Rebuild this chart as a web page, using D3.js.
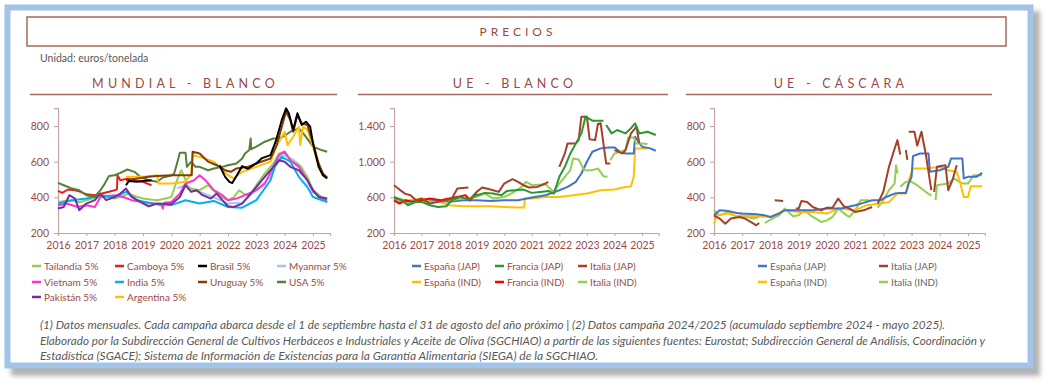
<!DOCTYPE html>
<html><head><meta charset="utf-8">
<script src="https://cdn.jsdelivr.net/npm/d3@7"></script>
<style>
html,body{margin:0;padding:0;background:#fff;}
svg text{font-family:Lato,"Open Sans",sans-serif;}
</style></head>
<body>
<svg id="c" width="1046" height="383"></svg>
<script>
// ---------- DATA ----------
const yearTicks = [2016,2017,2018,2019,2020,2021,2022,2023,2024,2025];
const yTicksMundial = [200,400,600,800];
const yTicksUEBlanco = [200,600,1000,1400];
const yTicksCascara = [200,400,600,800];

// Mundial - Blanco
const tailandia = [[2016.0,374],[2016.25,380],[2016.5,384],[2016.75,372],[2017.0,384],[2017.25,395],[2017.5,412],[2017.75,400],[2018.0,393],[2018.25,405],[2018.5,421],[2018.75,405],[2019.0,393],[2019.25,388],[2019.5,384],[2019.75,392],[2020.0,402],[2020.2,496],[2020.35,552],[2020.5,500],[2020.6,449],[2020.8,445],[2021.0,440],[2021.3,468],[2021.6,421],[2021.85,395],[2022.0,384],[2022.2,400],[2022.4,440],[2022.55,420],[2022.7,412],[2022.85,430],[2023.0,468],[2023.3,534],[2023.6,590],[2023.8,646],[2024.0,656],[2024.2,608],[2024.5,580],[2024.8,515],[2025.0,440],[2025.3,402],[2025.5,393]];
const camboya = [[2016.0,436],[2016.15,425],[2016.35,444],[2016.6,440],[2016.8,431],[2017.0,417],[2017.3,412],[2017.55,421],[2017.8,431],[2018.0,440],[2018.08,445],[2018.1,524],[2018.2,496],[2018.45,505],[2018.7,496],[2019.0,487],[2019.3,468]];
const brasil = [[2018.4,468],[2018.5,492],[2018.8,487],[2019.0,492],[2019.3,496],[2019.31,null],[2021.65,null],[2021.7,580],[2021.9,515],[2022.05,487],[2022.15,480],[2022.3,520],[2022.5,575],[2022.7,560],[2023.0,590],[2023.2,620],[2023.5,637],[2023.7,721],[2023.9,834],[2024.05,899],[2024.15,870],[2024.3,777],[2024.45,871],[2024.6,806],[2024.75,824],[2024.9,796],[2025.0,703],[2025.2,571],[2025.35,524],[2025.5,506]];
const myanmar = [[2020.2,450],[2020.5,470],[2020.8,440],[2021.0,430],[2021.5,400],[2022.0,365],[2022.5,370],[2023.0,440],[2023.5,515],[2023.8,627],[2024.0,637],[2024.3,610],[2024.6,571],[2025.0,440],[2025.5,374]];
const vietnam = [[2016.0,356],[2016.3,365],[2016.7,346],[2017.0,356],[2017.3,346],[2017.5,402],[2018.0,412],[2018.3,402],[2018.6,384],[2019.0,374],[2019.4,365],[2019.65,356],[2019.7,337],[2019.75,370],[2020.0,374],[2020.3,421],[2020.5,477],[2020.8,496],[2021.0,524],[2021.2,496],[2021.5,440],[2021.8,412],[2022.0,384],[2022.3,393],[2022.6,412],[2023.0,440],[2023.3,477],[2023.6,571],[2023.8,637],[2024.0,656],[2024.2,608],[2024.5,571],[2024.8,496],[2025.0,431],[2025.3,393],[2025.5,384]];
const india = [[2016.0,365],[2016.5,384],[2017.0,393],[2017.5,412],[2018.0,402],[2018.4,431],[2018.8,384],[2019.3,365],[2020.0,356],[2020.5,384],[2021.0,365],[2021.5,380],[2022.0,346],[2022.5,342],[2023.0,384],[2023.5,496],[2023.65,571],[2023.9,627],[2024.2,600],[2024.5,515],[2024.8,458],[2025.0,402],[2025.5,374]];
const uruguay = [[2018.4,496],[2018.8,505],[2019.2,515],[2019.5,519],[2020.0,524],[2020.5,524],[2020.72,524],[2020.75,656],[2021.0,646],[2021.3,600],[2021.6,580],[2021.9,552],[2022.1,543],[2022.3,562],[2022.7,571],[2023.0,590],[2023.5,618],[2023.7,684],[2023.9,796],[2024.05,881],[2024.2,834],[2024.3,768],[2024.45,862],[2024.6,815],[2024.8,806],[2025.0,703],[2025.2,590],[2025.35,534],[2025.5,511]];
const usa = [[2016.0,481],[2016.25,465],[2016.5,449],[2016.75,440],[2017.0,412],[2017.3,402],[2017.5,440],[2017.65,477],[2017.8,519],[2018.0,524],[2018.2,537],[2018.45,556],[2018.7,543],[2018.9,515],[2019.2,496],[2019.5,487],[2019.7,511],[2020.0,522],[2020.1,534],[2020.2,590],[2020.3,650],[2020.5,650],[2020.55,571],[2020.7,600],[2020.85,571],[2021.0,571],[2021.3,552],[2021.5,562],[2021.8,571],[2022.0,580],[2022.3,590],[2022.5,618],[2022.6,646],[2022.75,665],[2022.8,730],[2022.82,670],[2023.0,684],[2023.3,712],[2023.6,730],[2023.8,730],[2024.0,745],[2024.2,768],[2024.5,787],[2024.7,750],[2025.0,684],[2025.3,665],[2025.5,656]];
const pakistan = [[2016.0,337],[2016.2,346],[2016.4,412],[2016.6,393],[2016.75,328],[2017.0,365],[2017.3,384],[2017.5,421],[2017.7,384],[2018.0,402],[2018.2,421],[2018.4,449],[2018.6,402],[2018.9,374],[2019.2,350],[2019.5,365],[2020.0,361],[2020.3,402],[2020.5,468],[2020.7,431],[2020.9,440],[2021.1,412],[2021.4,393],[2021.6,421],[2021.8,384],[2022.0,350],[2022.2,346],[2022.5,365],[2022.8,421],[2023.0,458],[2023.2,496],[2023.4,534],[2023.6,571],[2023.8,608],[2024.0,600],[2024.2,571],[2024.5,552],[2024.8,496],[2025.0,440],[2025.2,402],[2025.5,393]];
const argentina = [[2018.4,515],[2019.0,515],[2019.5,524],[2019.55,477],[2020.0,477],[2020.5,487],[2020.7,534],[2020.75,637],[2021.0,627],[2021.5,600],[2022.0,524],[2022.2,506],[2022.5,543],[2023.0,571],[2023.5,600],[2023.7,684],[2023.9,740],[2024.0,768],[2024.1,693],[2024.3,740],[2024.5,796],[2024.55,693],[2024.65,796],[2024.8,780],[2025.0,684],[2025.2,571],[2025.35,524],[2025.5,506]];

// UE - Blanco
const espJapB = [[2016.0,586],[2016.5,549],[2017.0,567],[2017.5,567],[2018.0,549],[2018.5,567],[2019.0,567],[2019.5,560],[2020.0,567],[2020.5,567],[2021.0,597],[2021.5,624],[2022.0,680],[2022.3,717],[2022.6,774],[2022.8,867],[2023.0,999],[2023.2,1111],[2023.5,1149],[2023.8,1160],[2024.0,1160],[2024.2,1111],[2024.4,1092],[2024.7,1092],[2024.75,1280],[2025.0,1167],[2025.3,1149],[2025.5,1122]];
const fraJapB = [[2016.0,605],[2016.3,567],[2016.5,511],[2016.8,549],[2017.0,549],[2017.3,511],[2017.6,492],[2017.9,500],[2018.1,567],[2018.4,605],[2018.7,575],[2019.0,624],[2019.3,650],[2019.6,642],[2019.9,624],[2020.1,672],[2020.4,680],[2020.7,687],[2021.0,650],[2021.3,661],[2021.6,672],[2021.8,642],[2022.0,830],[2022.2,942],[2022.4,1092],[2022.6,1205],[2022.8,1317],[2022.95,1505],[2023.2,1460],[2023.6,1460],[2023.62,null],[2023.68,null],[2023.7,1411],[2023.9,1317],[2024.1,1355],[2024.4,1317],[2024.6,1375],[2024.75,1430],[2024.9,1317],[2025.2,1336],[2025.5,1299]];
const itaJapB = [[2016.0,736],[2016.2,687],[2016.4,642],[2016.6,623],[2016.8,567],[2017.0,586],[2017.3,530],[2017.6,549],[2017.9,567],[2018.1,586],[2018.3,699],[2018.7,710],[2018.72,null],[2018.8,null],[2018.82,600],[2019.0,661],[2019.2,710],[2019.5,687],[2019.8,661],[2020.0,755],[2020.3,804],[2020.5,774],[2020.7,736],[2020.9,710],[2021.2,717],[2021.5,755],[2021.6,774],[2021.62,null],[2021.98,null],[2022.0,942],[2022.2,1092],[2022.3,1205],[2022.6,1205],[2022.7,1242],[2022.8,1505],[2023.0,1505],[2023.1,1250],[2023.3,1242],[2023.4,1422],[2023.5,1430],[2023.6,1205],[2023.7,980],[2023.85,980],[2023.87,null],[2023.98,null],[2024.0,1130],[2024.3,1092],[2024.4,1130],[2024.6,1317],[2024.8,1392],[2024.9,1205]];
const espIndB = [[2016.0,586],[2016.5,567],[2017.0,586],[2017.5,567],[2018.0,511],[2018.5,500],[2019.0,500],[2019.5,500],[2020.0,492],[2020.5,485],[2020.72,485],[2020.75,586],[2021.0,586],[2021.5,605],[2022.0,605],[2022.5,624],[2023.0,642],[2023.5,680],[2024.0,687],[2024.3,710],[2024.6,725],[2024.7,830],[2024.75,1149],[2025.0,1149],[2025.2,1149]];
const fraIndB = [[2016.0,567],[2016.2,530],[2016.4,567],[2016.7,549],[2017.0,567],[2017.3,586],[2017.7,567],[2018.0,586],[2018.3,605],[2018.6,624],[2018.75,567],[2019.0,642]];
const itaIndB = [[2016.0,567],[2016.5,530],[2017.0,567],[2017.5,549],[2018.0,567],[2018.5,586],[2019.0,605],[2019.3,642],[2019.6,586],[2020.0,605],[2020.3,650],[2020.6,710],[2020.8,774],[2021.0,736],[2021.5,747],[2021.8,661],[2022.0,755],[2022.2,830],[2022.4,905],[2022.5,1036],[2022.7,1025],[2022.9,905],[2023.2,905],[2023.4,924],[2023.6,837],[2023.75,830],[2023.77,null],[2023.83,null],[2023.85,1017],[2024.0,1092],[2024.4,1130],[2024.5,1272],[2024.7,1272],[2024.8,1205],[2025.0,1205],[2025.2,1197]];

// UE - Cáscara
const espJapC = [[2016.0,299],[2016.2,327],[2016.5,324],[2016.8,312],[2017.0,309],[2017.5,305],[2017.8,299],[2018.0,290],[2018.3,309],[2018.5,327],[2019.0,327],[2019.5,327],[2020.0,337],[2020.5,337],[2021.0,356],[2021.3,369],[2021.6,384],[2021.9,384],[2022.1,402],[2022.4,421],[2022.6,425],[2022.8,425],[2022.9,477],[2023.0,515],[2023.05,631],[2023.3,646],[2023.6,646],[2023.65,543],[2024.0,552],[2024.3,571],[2024.4,618],[2024.8,618],[2024.85,506],[2025.0,515],[2025.3,515],[2025.5,537]];
const itaJapC = [[2016.0,299],[2016.2,281],[2016.4,252],[2016.6,281],[2016.9,290],[2017.1,281],[2017.3,262],[2017.5,243],[2017.6,256],[2017.62,null],[2018.1,null],[2018.15,384],[2018.45,380],[2018.47,null],[2018.85,null],[2018.9,337],[2019.0,337],[2019.1,380],[2019.3,374],[2019.5,346],[2019.8,327],[2020.0,342],[2020.2,342],[2020.4,393],[2020.6,350],[2020.8,337],[2021.0,318],[2021.3,327],[2021.6,346],[2021.62,null],[2021.78,null],[2021.8,365],[2022.0,431],[2022.2,571],[2022.4,674],[2022.5,721],[2022.6,640],[2022.62,null],[2022.78,null],[2022.8,665],[2022.85,610],[2022.87,null],[2022.89,null],[2022.9,768],[2023.1,768],[2023.2,690],[2023.35,768],[2023.5,646],[2023.7,440],[2023.72,null],[2023.78,null],[2023.8,430],[2023.9,571],[2024.2,580],[2024.3,440],[2024.45,496],[2024.6,580]];
const espIndC = [[2016.0,252],[2016.1,299],[2016.5,309],[2016.8,294],[2017.0,299],[2017.5,294],[2018.0,290],[2018.5,327],[2019.0,318],[2019.5,318],[2020.0,309],[2020.4,337],[2021.0,327],[2021.4,356],[2021.9,365],[2022.2,374],[2022.5,421],[2022.8,421],[2022.9,496],[2023.05,562],[2023.5,562],[2024.0,571],[2024.3,552],[2024.6,543],[2024.7,496],[2024.85,402],[2025.0,402],[2025.1,462],[2025.5,462]];
const itaIndC = [[2016.0,327],[2016.2,299],[2016.5,318],[2016.8,290],[2017.1,294],[2017.4,281],[2017.6,290],[2017.62,null],[2017.78,null],[2017.8,256],[2018.0,275],[2018.3,299],[2018.5,337],[2018.8,294],[2019.0,299],[2019.2,327],[2019.5,290],[2019.8,262],[2020.0,271],[2020.2,290],[2020.4,337],[2020.7,299],[2020.8,290],[2021.0,327],[2021.2,384],[2021.5,384],[2021.52,null],[2021.78,null],[2021.8,342],[2022.0,384],[2022.2,440],[2022.4,477],[2022.45,580],[2022.5,534],[2022.52,null],[2022.58,null],[2022.6,459],[2022.8,487],[2023.0,487],[2023.2,468],[2023.5,431],[2023.7,410],[2023.72,null],[2023.83,null],[2023.85,384],[2023.9,468],[2024.3,477],[2024.5,506],[2024.8,477],[2025.0,477],[2025.2,524],[2025.5,524]];

const legendMundial = ["Tailandia 5%","Camboya 5%","Brasil 5%","Myanmar 5%","Vietnam 5%","India 5%","Uruguay 5%","USA 5%","Pakistán 5%","Argentina 5%"];
const legendUEBlanco = ["España (JAP)","Francia (JAP)","Italia (JAP)","España (IND)","Francia (IND)","Italia (IND)"];
const legendCascara = ["España (JAP)","Italia (JAP)","España (IND)","Italia (IND)"];

const footnotes = [
 "(1) Datos mensuales. Cada campaña abarca desde el 1 de septiembre hasta el 31 de agosto del año próximo | (2) Datos campaña 2024/2025 (acumulado septiembre 2024 -  mayo 2025).",
 "Elaborado por la Subdirección General de Cultivos Herbáceos e Industriales y Aceite de Oliva (SGCHIAO) a partir de las siguientes fuentes: Eurostat; Subdirección General de Análisis, Coordinación y",
 "Estadística (SGACE); Sistema de Información de Existencias para la Garantía Alimentaria (SIEGA) de la SGCHIAO."
];

// ---------- DRAW ----------
const svg = d3.select("#c");
const brown = "#9A4A45", boxCol = "#A8675F", gray = "#595959";

const defs = svg.append("defs");
const f = defs.append("filter").attr("id","sh").attr("x","-5%").attr("y","-5%").attr("width","115%").attr("height","120%");
f.append("feGaussianBlur").attr("stdDeviation",2.5);

svg.append("rect").attr("x",11).attr("y",11).attr("width",1029).attr("height",365).attr("fill","#7f7f7f").attr("opacity",0.6).attr("filter","url(#sh)");
svg.append("rect").attr("x",7.5).attr("y",7.5).attr("width",1023).attr("height",358).attr("fill","#fff").attr("stroke","#A2C4E8").attr("stroke-width",6);

svg.append("rect").attr("x",27).attr("y",17).attr("width",979).attr("height",29).attr("fill","none").attr("stroke",boxCol).attr("stroke-width",1.5);
svg.append("text").attr("x",518).attr("y",36).attr("text-anchor","middle").attr("font-size",12).attr("letter-spacing",4).attr("fill",brown).text("PRECIOS");
svg.append("text").attr("x",40).attr("y",62).attr("font-size",10.5).attr("fill",gray).text("Unidad: euros/tonelada");

const panels = [
 {title:"MUNDIAL - BLANCO", lx0:30, lx1:337, x0:58, x2025:313, yMax:900, yTicks:yTicksMundial,
  series:[tailandia,camboya,brasil,myanmar,vietnam,india,uruguay,usa,pakistan,argentina],
  colors:["#92D050","#E3201B","#000000","#A9C4EB","#FF33CC","#00B0F0","#843C0C","#548235","#7030A0","#FFC000"],
  order:[3,0,4,5,8,1,7,9,6,2],
  legend:legendMundial, legCols:[32,115,198,277], legRows:[266,282,297], legCount:4, legColor:brown},
 {title:"UE - BLANCO", lx0:358, lx1:668, x0:394, x2025:642, yMax:1600, yTicks:yTicksUEBlanco,
  series:[espJapB,fraJapB,itaJapB,espIndB,fraIndB,itaIndB],
  colors:["#4472C4","#2E962E","#A5412A","#FFC000","#FF0000","#92D050"],
  order:[3,0,5,4,2,1],
  legend:legendUEBlanco, legCols:[412,495,578], legRows:[266,282], legCount:3, legColor:brown},
 {title:"UE - CÁSCARA", lx0:686, lx1:992, x0:714, x2025:968, yMax:900, yTicks:yTicksCascara,
  series:[espJapC,itaJapC,espIndC,itaIndC],
  colors:["#4472C4","#A5412A","#FFC000","#92D050"],
  order:[3,2,0,1],
  legend:legendCascara, legCols:[758,879], legRows:[266,282], legCount:2, legColor:"#666"}
];

const fmt = d3.formatLocale({decimal:",",thousands:".",grouping:[3],currency:["","€"]}).format(",d");

panels.forEach(p=>{
  const cx = (p.lx0+p.lx1)/2;
  svg.append("text").attr("x",cx+2).attr("y",88).attr("text-anchor","middle").attr("font-size",12.5).attr("letter-spacing",4.2).attr("fill",brown).text(p.title);
  svg.append("line").attr("x1",p.lx0).attr("x2",p.lx1).attr("y1",94.5).attr("y2",94.5).attr("stroke",boxCol).attr("stroke-width",1.5);

  const yrW = (p.x2025-p.x0)/9;
  const x = d3.scaleLinear().domain([2016,2025.6]).range([p.x0, p.x0+9.6*yrW]);
  const y = d3.scaleLinear().domain([200,p.yMax]).range([233, 233-(p.yMax-200)*(107/(p.yTicks[3]-200))]);

  const gx = svg.append("g").attr("transform",`translate(0,233)`).call(d3.axisBottom(x).tickValues(yearTicks).tickFormat(d3.format("d")).tickSizeOuter(0).tickSize(3));
  const gy = svg.append("g").attr("transform",`translate(${p.x0},0)`).call(d3.axisLeft(y).tickValues(p.yTicks).tickFormat(fmt).tickSizeOuter(0).tickSize(4));
  [gx,gy].forEach(g=>{
    g.select(".domain").attr("stroke","#C8A4A0").attr("stroke-width",1.2);
    g.selectAll(".tick line").attr("stroke","#C8A4A0");
    g.selectAll(".tick text").attr("fill",brown).attr("font-size",10.5).attr("font-family","Lato, sans-serif");
  });
  gx.selectAll(".tick text").attr("dy","0.95em");
  gy.selectAll(".tick text").attr("dx","-2");

  const line = d3.line().defined(d=>d[1]!==null).x(d=>x(d[0])).y(d=>y(d[1]));
  p.order.forEach(i=>{
    svg.append("path").datum(p.series[i]).attr("d",line).attr("fill","none").attr("stroke",p.colors[i]).attr("stroke-width",2).attr("stroke-linejoin","round");
  });

  p.legend.forEach((name,i)=>{
    const col = i % p.legCount, row = Math.floor(i/p.legCount);
    const lx = p.legCols[col], ly = p.legRows[row];
    svg.append("line").attr("x1",lx).attr("x2",lx+9).attr("y1",ly).attr("y2",ly).attr("stroke",p.colors[i]).attr("stroke-width",2.5);
    svg.append("text").attr("x",lx+12).attr("y",ly+3.5).attr("font-size",10).attr("fill",p.legColor).text(name);
  });
});

const fnW = [905, 945, 558];
footnotes.forEach((t,i)=>{
  svg.append("text").attr("x",40).attr("y",329+i*15.5).attr("font-size",10.5).attr("font-style","italic").attr("fill",gray)
    .attr("textLength",fnW[i]).attr("lengthAdjust","spacingAndGlyphs").text(t);
});
</script>
</body></html>
